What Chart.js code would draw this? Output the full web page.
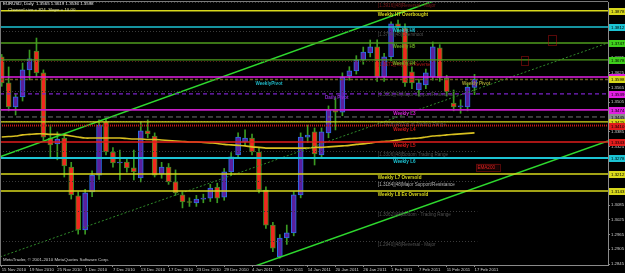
<!DOCTYPE html>
<html><head><meta charset="utf-8">
<style>html,body{margin:0;padding:0;background:#000;overflow:hidden}#wrap{width:625px;height:273px;position:relative}canvas{display:block}</style>
<script src="https://cdn.jsdelivr.net/npm/chart.js@4/dist/chart.umd.min.js"></script>
</head><body><div id="wrap"><canvas id="c" width="625" height="273"></canvas></div>
<script>
// ---------- DATA ----------
const dates = ["15 Nov 2010","16 Nov 2010","17 Nov 2010","18 Nov 2010","19 Nov 2010","22 Nov 2010","23 Nov 2010","24 Nov 2010","25 Nov 2010","26 Nov 2010","29 Nov 2010","30 Nov 2010",
"1 Dec 2010","2 Dec 2010","3 Dec 2010","6 Dec 2010","7 Dec 2010","8 Dec 2010","9 Dec 2010","10 Dec 2010","13 Dec 2010","14 Dec 2010","15 Dec 2010","16 Dec 2010","17 Dec 2010","20 Dec 2010","21 Dec 2010","22 Dec 2010","23 Dec 2010","24 Dec 2010","27 Dec 2010","28 Dec 2010","29 Dec 2010","30 Dec 2010","31 Dec 2010",
"3 Jan 2011","4 Jan 2011","5 Jan 2011","6 Jan 2011","7 Jan 2011","10 Jan 2011","11 Jan 2011","12 Jan 2011","13 Jan 2011","14 Jan 2011","17 Jan 2011","18 Jan 2011","19 Jan 2011","20 Jan 2011","21 Jan 2011","24 Jan 2011","25 Jan 2011","26 Jan 2011","27 Jan 2011","28 Jan 2011","31 Jan 2011",
"1 Feb 2011","2 Feb 2011","3 Feb 2011","4 Feb 2011","7 Feb 2011","8 Feb 2011","9 Feb 2011","10 Feb 2011","11 Feb 2011","14 Feb 2011","15 Feb 2011","16 Feb 2011","17 Feb 2011"];
const opens = [1.3690,1.3584,1.3486,1.3527,1.3637,1.3714,1.3625,1.3359,1.3335,1.3359,
1.3241,1.3123,1.2984,1.3139,1.3208,1.3425,1.3302,1.3257,1.3261,1.3237,
1.3196,1.3388,1.3367,1.3212,1.3241,1.3180,1.3127,1.3098,1.3094,1.3110,
1.3114,1.3159,1.3118,1.3221,1.3290,1.3343,1.3359,1.3302,1.3147,1.3004,
1.2874,1.2951,1.2972,1.3127,1.3363,1.3384,1.3290,1.3380,1.3474,1.3465,
1.3612,1.3633,1.3678,1.3706,1.3731,1.3608,1.3690,1.3825,1.3808,1.3629,
1.3555,1.3576,1.3608,1.3727,1.3604,1.3502,1.3486,1.3486,1.3565];
const highs = [1.3700,1.3649,1.3540,1.3665,1.3718,1.3767,1.3637,1.3412,1.3384,1.3370,
1.3260,1.3140,1.3150,1.3225,1.3433,1.3440,1.3320,1.3310,1.3280,1.3310,
1.3425,1.3433,1.3380,1.3260,1.3255,1.3229,1.3140,1.3115,1.3125,1.3130,
1.3170,1.3175,1.3235,1.3300,1.3380,1.3392,1.3375,1.3320,1.3160,1.3015,
1.2965,1.3004,1.3140,1.3380,1.3412,1.3400,1.3400,1.3490,1.3523,1.3625,
1.3650,1.3695,1.3730,1.3759,1.3760,1.3705,1.3833,1.3840,1.3825,1.3650,
1.3600,1.3640,1.3751,1.3740,1.3615,1.3555,1.3515,1.3580,1.3619];
const lows = [1.3570,1.3470,1.3453,1.3510,1.3596,1.3610,1.3350,1.3282,1.3270,1.3200,
1.3110,1.2967,1.2967,1.3120,1.3190,1.3290,1.3240,1.3188,1.3220,1.3188,
1.3180,1.3360,1.3200,1.3195,1.3170,1.3125,1.3074,1.3080,1.3080,1.3095,
1.3100,1.3095,1.3105,1.3205,1.3275,1.3330,1.3290,1.3135,1.2990,1.2895,
1.2869,1.2925,1.2960,1.3115,1.3340,1.3249,1.3275,1.3360,1.3392,1.3450,
1.3595,1.3620,1.3660,1.3690,1.3590,1.3590,1.3675,1.3790,1.3570,1.3560,
1.3530,1.3560,1.3595,1.3590,1.3530,1.3470,1.3460,1.3470,1.3536];
const closes = [1.3584,1.3486,1.3527,1.3637,1.3682,1.3625,1.3363,1.3331,1.3355,1.3245,
1.3127,1.2984,1.3135,1.3208,1.3412,1.3302,1.3257,1.3261,1.3237,1.3221,
1.3388,1.3376,1.3208,1.3241,1.3180,1.3135,1.3098,1.3096,1.3110,1.3114,
1.3155,1.3114,1.3221,1.3282,1.3363,1.3359,1.3302,1.3147,1.3004,1.2910,
1.2951,1.2972,1.3127,1.3363,1.3371,1.3294,1.3384,1.3474,1.3465,1.3608,
1.3633,1.3678,1.3710,1.3731,1.3608,1.3690,1.3825,1.3812,1.3584,1.3584,
1.3584,1.3625,1.3731,1.3604,1.3547,1.3486,1.3488,1.3567,1.3598];
const movingAvg = [1.3363,1.3365,1.3367,1.3372,1.3374,1.3376,1.3376,1.3374,1.3374,1.3372,
1.3367,1.3363,1.3359,1.3359,1.3359,1.3359,1.3359,1.3359,1.3357,1.3355,
1.3355,1.3353,1.3353,1.3351,1.3349,1.3347,1.3345,1.3343,1.3343,1.3341,
1.3339,1.3337,1.3333,1.3331,1.3329,1.3327,1.3323,1.3321,1.3318,1.3318,
1.3318,1.3318,1.3318,1.3318,1.3318,1.3321,1.3321,1.3323,1.3325,1.3327,
1.3329,1.3333,1.3335,1.3339,1.3343,1.3345,1.3347,1.3351,1.3355,1.3357,
1.3359,1.3363,1.3367,1.3369,1.3372,1.3374,1.3376,1.3378,1.3380];
const dateTickIdx = [0,4,8,12,16,20,24,28,32,36,40,44,48,52,56,60,64,68];
const priceTicks = [1.2845,1.2905,1.2965,1.3025,1.3085,1.3145,1.3205,1.3265,1.3325,1.3385,1.3445,1.3505,1.3565,1.3625,1.3685,1.3745,1.3805,1.3865];
// channel lines: [bar, price] endpoints
const channelUpper = [[-0.25,1.3282],[87.2,1.4174]];
const channelLower = [[30,1.2772],[87.2,1.3347]];
const channelMid   = [[-0.25,1.2874],[87.2,1.3747]];
// horizontal levels
const levelNames  = ["Weekly H7 Overbought","Weekly H6","Weekly H5","Weekly H4","WeeklyPivot","Bid","Daily Pivot","Weekly L3","Range","DayLevel","Weekly L4","Weekly L5","Weekly L6","Weekly L7 Oversold","Weekly L8 Ex Oversold"];
const levelPrices = [1.3878,1.3812,1.3747,1.3678,1.3608,1.3598,1.3539,1.3474,1.3445,1.3425,1.3410,1.3343,1.3278,1.3212,1.3143];
// Murrey math lines
const murreyPrices = [1.3916,1.3794,1.3672,1.3550,1.3428,1.3306,1.3184,1.3062,1.2940];
const murreyTexts = ["[1.3916]|48|Reversal - Major","[1.3794]|48|Overshoot","[1.3672]|48|Pivot Reverse","[1.3550]|48|Major Support/Resistance","[1.3428]|48|Top of Trading Range","[1.3306]|48|Bottom Trading Range","[1.3184]|48|Major Support/Resistance","[1.3062]|48|Bottom - Trading Range","[1.2940]|48|Reversal - Major"];
const headerText = ["EURUSD, Daily  1.3565 1.3619 1.3536 1.3598","Channel size = 824  Slope = 10.00"];

// ---------- STYLES ----------
const FONT = "'Liberation Sans', Arial, sans-serif";
const C = {yellow:'#d8d81c',cyan:'#1cc4d4',green:'#4f9c1e',magenta:'#e01ee0',red:'#e01c1c',purple:'#7a22c8',gray:'#707070',bid:'#6a5a22'};
const levelStyle = {
 "Weekly H7 Overbought":{c:C.yellow,w:1.6,lab:C.yellow,tx:54.1},
 "Weekly H6":{c:C.cyan,w:1.6,lab:C.cyan,tx:56.2},
 "Weekly H5":{c:C.green,w:1.4,lab:'#3fd01c',tx:56.2},
 "Weekly H4":{c:C.green,w:1.4,lab:'#3fd01c',tx:56.2},
 "WeeklyPivot":{c:C.magenta,w:1.6,lab:C.magenta},
 "Bid":{c:C.bid,w:1.4,dash:[3,2],lab:C.yellow},
 "Daily Pivot":{c:C.purple,w:1.4,dash:[4,3],lab:C.magenta},
 "Weekly L3":{c:'#c81ec8',w:1.6,lab:C.magenta,tx:56.3},
 "Range":{c:C.gray,w:1,dash:[5,3],lab:'#8a8a8a'},
 "DayLevel":{c:C.yellow,w:1.4,lab:C.yellow},
 "Weekly L4":{c:'#c81818',w:2,dash:[1,1],lab:C.red,tx:56.3},
 "Weekly L5":{c:C.red,w:1.4,lab:C.red,tx:56.3},
 "Weekly L6":{c:C.cyan,w:2,lab:C.cyan,tx:56.3},
 "Weekly L7 Oversold":{c:C.yellow,w:1.6,lab:C.yellow,tx:54.1},
 "Weekly L8 Ex Oversold":{c:C.yellow,w:1.6,lab:C.yellow,tx:54.1}
};
const murreyColor = ['#7a1a1a','#505050','#b01818','#555555','#505050','#505050','#b4b4b4','#505050','#505050'];
const murreyLine = ['#3a3a3a','#3a3a3a','#5a1a1a','#3a3a3a','#3a3a3a','#3a3a3a','#3a3a3a','#3a3a3a','#3a3a3a'];

const bull = opens.map((o,i)=>closes[i]>=o);

const overlay = {
 id:'overlay',
 afterDatasetsDraw(chart){
  const {ctx, chartArea:a, scales:{x,y}} = chart;
  ctx.save();
  ctx.beginPath(); ctx.rect(a.left,a.top,a.right-a.left,a.bottom-a.top); ctx.clip();
  const mEnd = x.getPixelForValue(68.4), mTx = x.getPixelForValue(54.1);
  murreyPrices.forEach((p,i)=>{
    const py = Math.round(y.getPixelForValue(p))+0.5;
    ctx.strokeStyle = murreyLine[i]; ctx.lineWidth=1; ctx.setLineDash([1,2]);
    ctx.beginPath(); ctx.moveTo(a.left,py); ctx.lineTo(mEnd,py); ctx.stroke();
    ctx.setLineDash([]);
    ctx.fillStyle = murreyColor[i]; ctx.font = `4.6px ${FONT}`; ctx.textBaseline='top';
    ctx.fillText(murreyTexts[i], mTx, py+1);
  });
  levelNames.forEach((n,i)=>{
    const s = levelStyle[n]; const py = y.getPixelForValue(levelPrices[i]);
    ctx.strokeStyle = s.c; ctx.lineWidth = s.w; ctx.setLineDash(s.dash||[]);
    ctx.beginPath(); ctx.moveTo(a.left,py); ctx.lineTo(a.right,py); ctx.stroke();
    ctx.setLineDash([]);
    if (s.tx!==undefined){
      ctx.fillStyle = s.c===C.green? '#6aaa22': (n==='Weekly L3'?'#d020d0':s.c);
      ctx.font = `bold 4.6px ${FONT}`; ctx.textBaseline='top';
      ctx.fillText(n, x.getPixelForValue(s.tx), py+1.5);
    }
  });
  ctx.textBaseline='top';
  const wp = y.getPixelForValue(levelPrices[4]);
  ctx.font = `bold 4.6px ${FONT}`;
  ctx.fillStyle = '#20b8c8'; ctx.fillText('WeeklyPivot', x.getPixelForValue(36.5), wp+4);
  ctx.fillStyle = '#a0a030'; ctx.fillText('Weekly Pivot', x.getPixelForValue(66.2), wp+4);
  const dp = y.getPixelForValue(levelPrices[6]);
  ctx.fillStyle = '#8a2ad0'; ctx.fillText('Daily Pivot', x.getPixelForValue(46.5), dp+1.5);
  ctx.strokeStyle='#b01010'; ctx.lineWidth=1; ctx.setLineDash([1,1]);
  [[78.6,79.8,1.3780,1.3739],[74.7,75.7,1.3694,1.3657]].forEach(b=>{
    const x0=x.getPixelForValue(b[0]),x1=x.getPixelForValue(b[1]),y0=y.getPixelForValue(b[2]),y1=y.getPixelForValue(b[3]);
    ctx.strokeRect(Math.round(x0)+0.5,Math.round(y0)+0.5,Math.round(x1-x0),Math.round(y1-y0));
  });
  ctx.setLineDash([]);
  const bx0=x.getPixelForValue(68.2),bx1=x.getPixelForValue(71.6),by0=y.getPixelForValue(1.3255),by1=y.getPixelForValue(1.3227);
  ctx.fillStyle='#1a0404'; ctx.fillRect(bx0,by0,bx1-bx0,by1-by0);
  ctx.strokeStyle='#a01010'; ctx.setLineDash([1,1]); ctx.strokeRect(Math.round(bx0)+0.5,Math.round(by0)+0.5,Math.round(bx1-bx0),Math.round(by1-by0)); ctx.setLineDash([]);
  ctx.fillStyle='#e02020'; ctx.font=`4.6px ${FONT}`; ctx.textBaseline='middle'; ctx.fillText('EMA200', bx0+1.5, (by0+by1)/2+0.5);
  ctx.restore();
 },
 afterDraw(chart){
  const {ctx, chartArea:a, scales:{y}} = chart;
  ctx.save();
  ctx.strokeStyle='#7a7a7a'; ctx.lineWidth=1;
  ctx.beginPath(); ctx.moveTo(0,1.5); ctx.lineTo(a.right,1.5); ctx.moveTo(0.5,1); ctx.lineTo(0.5,a.bottom); ctx.stroke();
  ctx.font = `4.4px ${FONT}`; ctx.textBaseline='middle';
  levelNames.forEach((n,i)=>{
    const s = levelStyle[n]; const py = y.getPixelForValue(levelPrices[i]);
    ctx.fillStyle = s.lab; ctx.fillRect(a.right+1, Math.round(py)-3, 16, 7);
    ctx.fillStyle = '#000'; ctx.fillText(levelPrices[i].toFixed(4), a.right+3, Math.round(py)+0.5);
  });
  ctx.textBaseline='top'; ctx.font=`4.4px ${FONT}`;
  ctx.fillStyle='#e8e8e8'; ctx.fillText(headerText[0],3,2);
  ctx.fillStyle='#e0e0b0'; ctx.fillText(headerText[1],8,7.5);
  ctx.fillStyle='#d0d0d0'; ctx.fillText('MetaTrader, \u00a9 2001-2010 MetaQuotes Software Corp.',3,257.5);
  ctx.restore();
 }
};

const toPts = arr => arr.map(p=>({x:p[0],y:p[1]}));
new Chart(document.getElementById('c'),{
 type:'bar',
 data:{datasets:[
  {type:'line',data:toPts(channelUpper),borderColor:'#2ed82e',borderWidth:1.5,pointRadius:0,clip:0,order:1},
  {type:'line',data:toPts(channelLower),borderColor:'#2ed82e',borderWidth:1.5,pointRadius:0,clip:0,order:1},
  {type:'line',data:toPts(channelMid),borderColor:'#2f8a2a',borderWidth:1,borderDash:[2,2],pointRadius:0,clip:0,order:1},
  {type:'line',data:movingAvg.map((v,i)=>({x:i,y:v})),borderColor:'#d8c020',borderWidth:1.6,pointRadius:0,tension:0.3,clip:0,order:1},
  {type:'bar',data:opens.map((o,i)=>({x:i,y:[lows[i],highs[i]]})),backgroundColor:'#3a9a22',barThickness:1,grouped:false,order:3},
  {type:'bar',data:opens.map((o,i)=>({x:i,y:[o,closes[i]]})),backgroundColor:bull.map(b=>b?'#5a1f9c':'#f0281e'),borderColor:bull.map(b=>b?'#2a6ee8':'#3a8a22'),borderWidth:1,borderSkipped:false,barThickness:5,minBarLength:1,grouped:false,order:2}
 ]},
 options:{
  responsive:false,animation:false,devicePixelRatio:1,
  layout:{padding:{top:2,left:0,right:0,bottom:0}},
  plugins:{legend:{display:false},tooltip:{enabled:false}},
  scales:{
   x:{type:'linear',min:-0.245,max:87.2,offset:false,
      afterFit(s){s.height=8;s.paddingLeft=0;s.paddingRight=0;},
      afterBuildTicks(s){s.ticks=dateTickIdx.map(v=>({value:v}));},
      grid:{offset:false,drawOnChartArea:false,drawTicks:true,tickLength:2,color:'#8a8a8a'},
      border:{display:true,color:'#8a8a8a'},
      ticks:{autoSkip:false,maxRotation:0,align:'start',padding:0,color:'#d0d0d0',font:{family:FONT,size:4.3},callback:v=>dates[v]||''}},
   y:{position:'right',min:1.2841,max:1.3914,
      afterFit(s){s.width=17;s.paddingTop=0;s.paddingBottom=0;},
      afterBuildTicks(s){s.ticks=priceTicks.map(v=>({value:v}));},
      grid:{drawOnChartArea:false,drawTicks:true,tickLength:2,color:'#8a8a8a'},
      border:{display:true,color:'#8a8a8a'},
      ticks:{autoSkip:false,padding:1,color:'#d0d0d0',font:{family:FONT,size:4.3},callback:v=>Number(v).toFixed(4)}}
  }
 },
 plugins:[overlay]
});
</script></body></html>
